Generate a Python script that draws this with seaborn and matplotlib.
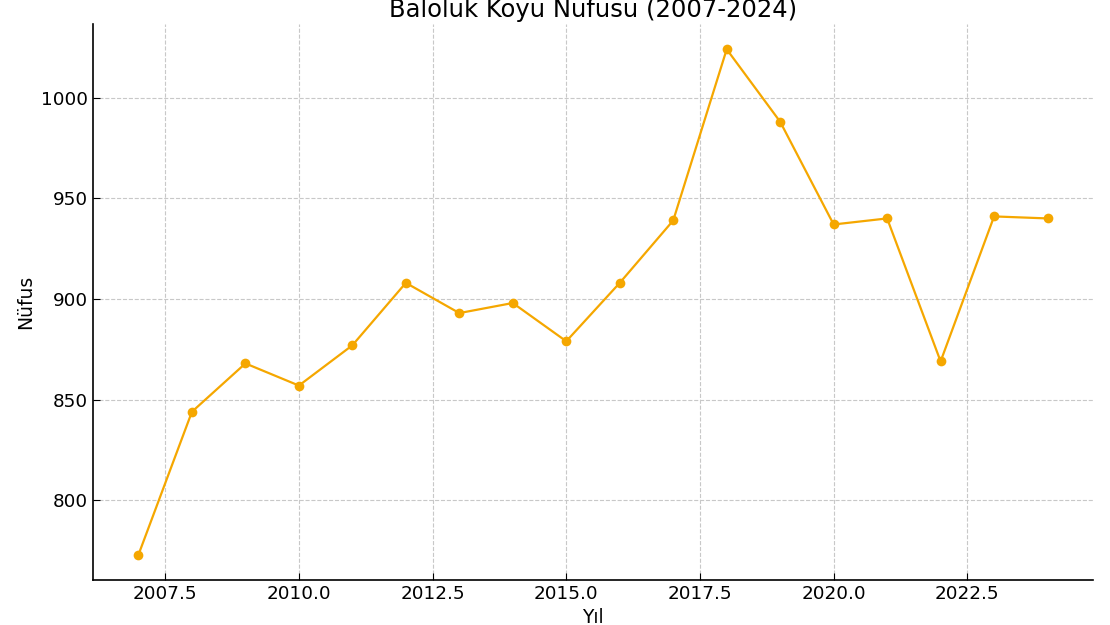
import matplotlib
matplotlib.use("Agg")
import matplotlib.pyplot as plt
import seaborn as sns
import pandas as pd

# Baloluk köyü nüfus verileri
years = [2007, 2008, 2009, 2010, 2011, 2012, 2013, 2014, 2015,
         2016, 2017, 2018, 2019, 2020, 2021, 2022, 2023, 2024]
population = [773, 844, 868, 857, 877, 908, 893, 898, 879,
              908, 939, 1024, 988, 937, 940, 869, 941, 940]

df = pd.DataFrame({"Yıl": years, "Nüfus": population})

sns.set_style("white")
plt.rcParams['font.family'] = ['DejaVu Sans']
plt.rcParams['text.color'] = 'black'
plt.rcParams['axes.labelcolor'] = 'black'
plt.rcParams['xtick.color'] = 'black'
plt.rcParams['ytick.color'] = 'black'

fig = plt.figure(figsize=(11.1, 6.25), dpi=100)
ax = fig.add_axes([0.0838, 0.072, 0.9009, 0.8896])

sns.lineplot(data=df, x="Yıl", y="Nüfus", ax=ax, color="#F5A700",
             marker='o', markersize=7, markeredgewidth=0, linewidth=1.6)

ax.set_title("Baloluk Köyü Nüfusu (2007-2024)", fontsize=17.5, pad=5)
ax.set_xlabel("Yıl", fontsize=13.5)
ax.set_ylabel("Nüfus", fontsize=13.5)
ax.tick_params(axis='both', direction='in', labelsize=13.2, length=5,
               bottom=True, left=True)
ax.grid(True, linestyle='--', color='#c8c8c8', linewidth=0.8)
ax.set_axisbelow(True)
for side in ['top', 'right']:
    ax.spines[side].set_visible(False)
for side in ['left', 'bottom']:
    ax.spines[side].set_linewidth(1.2)
    ax.spines[side].set_color('black')

fig.savefig("out.png", dpi=100)
plt.close(fig)
